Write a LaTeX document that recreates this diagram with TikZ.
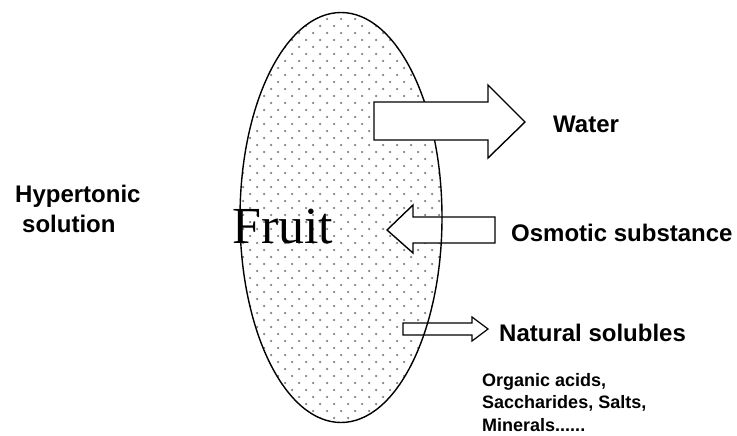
\documentclass[tikz,border=0pt]{standalone}
\usepackage{fontspec}
\setmainfont{Liberation Sans}
\newfontfamily\fruitfont{Liberation Serif}
\begin{document}
\begin{tikzpicture}[x=1pt,y=-1pt,
  label/.style={font=\bfseries\fontsize{24}{28}\selectfont, anchor=base west, inner sep=0pt},
  small/.style={font=\bfseries\fontsize{18}{21}\selectfont, anchor=base west, inner sep=0pt},
  fatarrow/.style={draw=black, line width=1.4pt, fill=white, line join=miter},
  dotstyle/.style={fill=black!50}]
\useasboundingbox (0,0) rectangle (737,436);
% fruit body
\coordinate (c) at (341,217.5);
\begin{scope}
  \clip (c) ellipse [x radius=101, y radius=205];
  \foreach \j in {0,...,59}{
    \foreach \i in {0,...,15}{
      \pgfmathsetmacro{\xx}{236+14*\i+7*mod(\j,2)}
      \pgfmathsetmacro{\yy}{12+7*\j}
      \fill[dotstyle] (\xx,\yy) circle (1.25);
    }
  }
\end{scope}
% osmotic substance arrow (inward)
\draw[fatarrow] (495,217) -- (413,217) -- (413,205) -- (387,230) -- (413,253) -- (413,243) -- (495,243) -- cycle;
% natural solubles arrow
\draw[fatarrow, line width=1.2pt] (403,323) -- (472,323) -- (472,317) -- (488,329) -- (472,341) -- (472,335) -- (403,335) -- cycle;
% ellipse outline
\draw[line width=1.4pt] (c) ellipse [x radius=101, y radius=205];
% water arrow (outward)
\draw[fatarrow] (374,102) -- (488,102) -- (488,85) -- (525,122) -- (488,158) -- (488,140) -- (374,140) -- cycle;
% texts
\node[anchor=base west, inner sep=0pt, font=\fruitfont\fontsize{52}{60}\selectfont] (fruit) at (232,243) {Fruit};
\node[label] (water) at (553,132) {Water};
\node[label] (osm) at (511,241) {Osmotic substance};
\node[label] (nat) at (499,341) {Natural solubles};
\node[label] (hyp1) at (15,202) {Hypertonic};
\node[label] (hyp2) at (22,232) {solution};
\node[small] (s1) at (482,386) {Organic acids,};
\node[small] (s2) at (482,408) {Saccharides, Salts,};
\node[small] (s3) at (482,431) {Minerals......};
\end{tikzpicture}
\end{document}
